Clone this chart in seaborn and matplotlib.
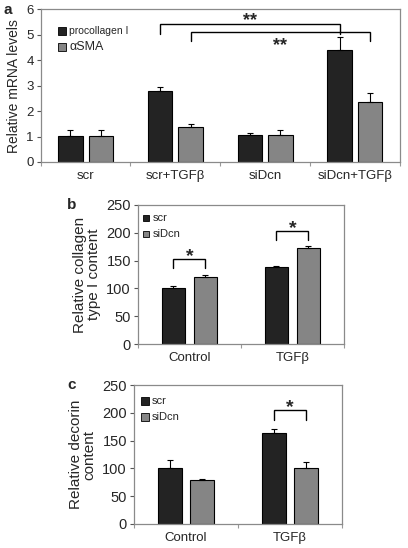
import numpy as np
import pandas as pd
import matplotlib
matplotlib.use("Agg")
import matplotlib.pyplot as plt
import seaborn as sns

# ---- data ----
a_groups = ["scr", "scr+TGFβ", "siDcn", "siDcn+TGFβ"]
a_series = ["procollagen I", "αSMA"]
a_procollagen = [1.03, 2.80, 1.05, 4.42]
a_procollagen_err = [0.23, 0.16, 0.10, 0.50]
a_asma = [1.03, 1.36, 1.08, 2.35]
a_asma_err = [0.22, 0.13, 0.17, 0.36]

bc_groups = ["Control", "TGFβ"]
bc_series = ["scr", "siDcn"]
b_scr = [100, 138]
b_scr_err = [4, 2.5]
b_sidcn = [120, 172]
b_sidcn_err = [3.5, 4.5]

c_scr = [100, 164]
c_scr_err = [16, 7]
c_sidcn = [80, 100]
c_sidcn_err = [1.5, 12]

sns.set_theme(style="white")
plt.rcParams["font.family"] = ["Liberation Sans", "DejaVu Sans"]

DARK = "#232323"
GRAY = "#858585"
FRAME = "#8a8a8a"


def make_df(groups, series, vals):
    rows = []
    for s, v in zip(series, vals):
        for g, y in zip(groups, v):
            rows.append({"group": g, "series": s, "value": y})
    return pd.DataFrame(rows)


def draw_panel(ax, groups, series, vals, errs, width, gap, ylim, yticks, ylabel,
               ylabel_size, ytick_size, leg):
    df = make_df(groups, series, vals)
    sns.barplot(data=df, x="group", y="value", hue="series", order=groups,
                hue_order=series, palette=[DARK, GRAY], width=width, gap=gap,
                errorbar=None, edgecolor="black", linewidth=0.8, ax=ax,
                legend=False)
    bars = [list(c.patches) for c in ax.containers]
    # one-sided error bars on top of each bar
    for patches, err in zip(bars, errs):
        xs = [p.get_x() + p.get_width() / 2 for p in patches]
        ys = [p.get_height() for p in patches]
        ax.errorbar(xs, ys, yerr=[np.zeros(len(err)), err], fmt="none",
                    ecolor="black", elinewidth=0.8, capsize=2.5, capthick=0.8)
    ax.set_ylim(*ylim)
    ax.set_xlim(-0.5, len(groups) - 0.5)
    ax.set_yticks(yticks)
    ax.set_xlabel("")
    ax.set_ylabel(ylabel, fontsize=ylabel_size, labelpad=4, linespacing=1.0)
    for sp in ax.spines.values():
        sp.set_visible(True)
        sp.set_color(FRAME)
        sp.set_linewidth(0.9)
    ax.tick_params(axis="y", which="major", direction="out", length=3,
                   width=0.8, color="#555555", labelsize=ytick_size, pad=2,
                   left=True)
    ax.tick_params(axis="x", which="major", length=0, labelsize=9.5, pad=6)
    ax.set_xticks(np.arange(len(groups) + 1) - 0.5, minor=True)
    ax.tick_params(axis="x", which="minor", direction="out", length=3,
                   width=0.8, color="#999999", bottom=True)
    # legend built from square markers
    mx, tx, ly, dy, ms, sizes = leg
    for i, (s, col, fs) in enumerate(zip(series, [DARK, GRAY], sizes)):
        y = ly - i * dy
        ax.plot([mx], [y], marker="s", ms=ms, mfc=col, mec="black", mew=0.6,
                transform=ax.transAxes, clip_on=False, ls="none")
        ax.text(tx, y, s, transform=ax.transAxes, va="center", ha="left",
                fontsize=fs)
    return bars


def xc(patch):
    return patch.get_x() + patch.get_width() / 2


def bracket(ax, x1, x2, y_top, y_low, label, label_y, size):
    ax.plot([x1, x1, x2, x2], [y_low, y_top, y_top, y_low], color="black",
            lw=1.0, solid_joinstyle="miter")
    ax.text((x1 + x2) / 2, label_y, label, ha="center", va="center",
            fontsize=size, fontweight="bold")


fig = plt.figure(figsize=(4.08, 5.48), dpi=100)

# ---- panel a ----
ax_a = fig.add_axes([0.0998, 0.7044, 0.880, 0.2783])
p = draw_panel(ax_a, a_groups, a_series, [a_procollagen, a_asma],
               [a_procollagen_err, a_asma_err], 0.68, 0.2, (0, 6), range(0, 7),
               "Relative mRNA levels", 10, 9.5,
               (0.06, 0.08, 0.86, 0.107, 5.5, (7.5, 9)))
bracket(ax_a, xc(p[0][1]), xc(p[0][3]), 5.42, 5.05, "**", 5.56, 13)
bracket(ax_a, xc(p[1][1]), xc(p[1][3]), 5.12, 4.76, "**", 4.58, 13)
fig.text(0.008, 0.995, "a", fontsize=11, fontweight="bold", va="top")

# ---- panel b ----
ax_b = fig.add_axes([0.338, 0.372, 0.505, 0.254])
p = draw_panel(ax_b, bc_groups, bc_series, [b_scr, b_sidcn],
               [b_scr_err, b_sidcn_err], 0.62, 0.26, (0, 250), range(0, 251, 50),
               "Relative collagen\ntype I content", 11, 10.5,
               (0.041, 0.07, 0.906, 0.115, 5, (8, 8)))
bracket(ax_b, xc(p[0][0]), xc(p[1][0]), 153, 136, "*", 158, 14)
bracket(ax_b, xc(p[0][1]), xc(p[1][1]), 203, 187, "*", 208, 14)
fig.text(0.165, 0.638, "b", fontsize=11, fontweight="bold", va="top")

# ---- panel c ----
ax_c = fig.add_axes([0.328, 0.0438, 0.510, 0.2536])
p = draw_panel(ax_c, bc_groups, bc_series, [c_scr, c_sidcn],
               [c_scr_err, c_sidcn_err], 0.62, 0.26, (0, 250), range(0, 251, 50),
               "Relative decorin\ncontent", 11, 10.5,
               (0.053, 0.085, 0.887, 0.115, 6, (8, 8)))
bracket(ax_c, xc(p[0][1]), xc(p[1][1]), 205, 187, "*", 210, 14)
fig.text(0.165, 0.31, "c", fontsize=11, fontweight="bold", va="top")

fig.savefig("out.png", dpi=100)
